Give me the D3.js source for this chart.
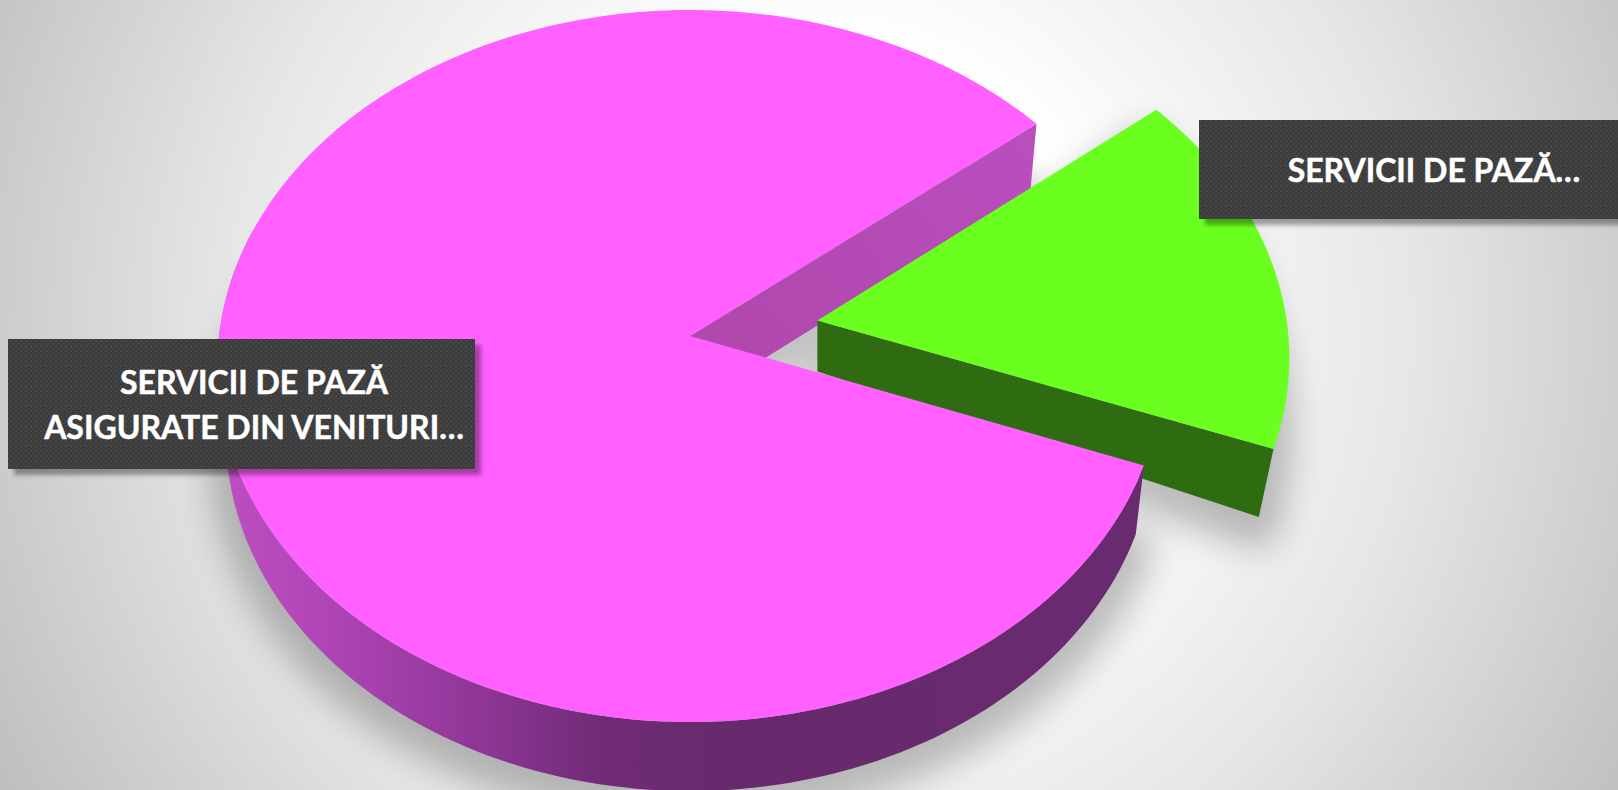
<!DOCTYPE html>
<html>
<head>
<meta charset="utf-8" />
<style>
	html, body { margin: 0; padding: 0; background: #fff; overflow: hidden; }
	svg { display: block; }
	text { font-family: Lato, "Open Sans", sans-serif; font-weight: 700; fill: #fff; stroke: #fff; stroke-width: 0.5px; }
</style>
<script src="https://cdn.jsdelivr.net/npm/d3@7"></script>
</head>
<body>
<svg id="chart" width="1618" height="790"></svg>
<script>
const categories = ["SERVICII DE PAZĂ ASIGURATE DIN VENITURI…", "SERVICII DE PAZĂ…"];
const values = [83.33, 16.67];
const labelLines = [["SERVICII DE PAZĂ", "ASIGURATE DIN VENITURI…"], ["SERVICII DE PAZĂ…"]];
const sliceColors = ["#ff60ff", "#6bff1f"];

const width = 1618;
const height = 790;
const svg = d3.select("#chart");
const defs = svg.append("defs");

// background glow
const bg = defs.append("radialGradient").attr("id", "bg")
	.attr("gradientUnits", "userSpaceOnUse")
	.attr("cx", 820).attr("cy", 330).attr("r", 960);
bg.append("stop").attr("offset", 0.3).attr("stop-color", "#ffffff");
bg.append("stop").attr("offset", 0.62).attr("stop-color", "#e6e6e6");
bg.append("stop").attr("offset", 1).attr("stop-color", "#bcbcbc");
svg.append("rect").attr("width", width).attr("height", height).attr("fill", "url(#bg)");

const wallGrad = defs.append("linearGradient").attr("id", "wallGrad")
	.attr("gradientUnits", "userSpaceOnUse")
	.attr("x1", 220).attr("x2", 1140).attr("y1", 0).attr("y2", 0);
[[0, "#bd4fc0"], [0.1, "#b246b8"], [0.27, "#92379a"], [0.42, "#6f2b75"], [0.55, "#672a6c"], [1, "#6a2a70"]]
	.forEach(([o, c]) => wallGrad.append("stop").attr("offset", o).attr("stop-color", c));

const innerGrad = defs.append("linearGradient").attr("id", "innerGrad")
	.attr("gradientUnits", "userSpaceOnUse")
	.attr("x1", 1035).attr("y1", 125).attr("x2", 770).attr("y2", 360);
innerGrad.append("stop").attr("offset", 0).attr("stop-color", "#b94fbe");
innerGrad.append("stop").attr("offset", 1).attr("stop-color", "#b048ae");

defs.append("filter").attr("id", "soft").attr("x", "-20%").attr("y", "-20%").attr("width", "140%").attr("height", "140%")
	.append("feGaussianBlur").attr("stdDeviation", 17);
defs.append("filter").attr("id", "boxSoft").attr("x", "-10%").attr("y", "-20%").attr("width", "120%").attr("height", "140%")
	.append("feGaussianBlur").attr("stdDeviation", 2);

const dots = defs.append("pattern").attr("id", "dots")
	.attr("patternUnits", "userSpaceOnUse").attr("width", 5).attr("height", 5);
dots.append("rect").attr("width", 5).attr("height", 5).attr("fill", "#3c3c3c");
dots.append("circle").attr("cx", 1.2).attr("cy", 1.2).attr("r", 0.9).attr("fill", "#505050");
dots.append("circle").attr("cx", 3.7).attr("cy", 3.7).attr("r", 0.9).attr("fill", "#4a4a4a");

// tilted pie plane: unit circle (u right, v toward viewer) to screen
const tipX = 690;
const tipY = 336;
const persp = 0.0843;
const planeW = 471;
const planeH = 353.5;
const explode = 0.275;

const pie = d3.pie().sort(null).startAngle(110.8 * Math.PI / 180).endAngle(470.8 * Math.PI / 180);
const arcs = pie(values);

function pinkDepth() { return 69; }
function greenDepth(v) { return 51 + (v + 0.043) * 48; }

function project(u, v, level, i) {
	const w = 1 - persp * v;
	const x = tipX + planeW * u / w;
	const y = tipY + planeH * v / w;
	if (!level) return [x, y];
	if (i === 0) return [tipX + (x - tipX) * 0.982, y + pinkDepth()];
	const gx = project(offset(i)[0], offset(i)[1], 0, i)[0];
	return [gx + (x - gx) * 0.968, y + greenDepth(v)];
}

function offset(i) {
	if (i === 0) return [0, 0];
	const mid = (arcs[i].startAngle + arcs[i].endAngle) / 2;
	return [explode * Math.sin(mid), -explode * Math.cos(mid)];
}

function pointAt(i, angle, r, level) {
	const o = offset(i);
	return project(o[0] + r * Math.sin(angle), o[1] - r * Math.cos(angle), level, i);
}

function arcPoints(i, a0, a1, level) {
	return d3.range(0, 121).map((k) => pointAt(i, a0 + (a1 - a0) * k / 120, 1, level));
}

const line = d3.line();
function slicePath(i, level) {
	const a = arcs[i];
	return line([pointAt(i, 0, 0, level), ...arcPoints(i, a.startAngle, a.endAngle, level)]) + "Z";
}

// soft shadow under the pie
const shadow = svg.append("g").attr("filter", "url(#soft)").attr("fill", "#000").attr("stroke", "#000")
	.attr("stroke-width", 34).attr("stroke-linejoin", "round").attr("opacity", 0.24);
arcs.forEach((a, i) => {
	shadow.append("path").attr("d", slicePath(i, 1)).attr("transform", "translate(0,14)");
});

const pink = arcs[0];
const green = arcs[1];

// inner cut wall of the big slice, seen through the gap
svg.append("path")
	.attr("d", line([
		pointAt(0, pink.endAngle, 0, 0),
		pointAt(0, pink.endAngle, 1, 0),
		pointAt(0, pink.endAngle, 1, 1),
		pointAt(0, pink.endAngle, 0, 1),
	]) + "Z")
	.attr("fill", "url(#innerGrad)");

// exploded slice
svg.append("path")
	.attr("d", line([
		pointAt(1, green.endAngle, 0, 0),
		pointAt(1, green.endAngle, 1, 0),
		pointAt(1, green.endAngle, 1, 1),
		pointAt(1, green.endAngle, 0, 1),
	]) + "Z")
	.attr("fill", "#2f6b10");
svg.append("path").attr("d", slicePath(1, 0)).attr("fill", sliceColors[1]);

// outer rim of the big slice, front half only
const rimEnd = Math.PI * 1.6;
svg.append("path")
	.attr("d", line([
		...arcPoints(0, pink.startAngle, rimEnd, 0),
		...arcPoints(0, pink.startAngle, rimEnd, 1).reverse(),
	]) + "Z")
	.attr("fill", "url(#wallGrad)");
svg.append("path").attr("d", slicePath(0, 0)).attr("fill", sliceColors[0]);

// labels
const labelBoxes = [
	{ x: 8, y: 339, w: 467, h: 130, cx: 254, base: [394, 439] },
	{ x: 1199, y: 120, w: 419, h: 99, cx: 1434, base: [182] },
];
labelBoxes.forEach((b, i) => {
	svg.append("rect").attr("x", b.x + 6).attr("y", b.y + 6).attr("width", b.w).attr("height", b.h)
		.attr("fill", "#000").attr("opacity", 0.35).attr("filter", "url(#boxSoft)");
	svg.append("rect").attr("x", b.x).attr("y", b.y).attr("width", b.w).attr("height", b.h)
		.attr("fill", "url(#dots)");
	labelLines[i].forEach((t, k) => {
		svg.append("text").attr("x", b.cx).attr("y", b.base[k])
			.attr("text-anchor", "middle").attr("font-size", 32).text(t);
	});
});
</script>
</body>
</html>
